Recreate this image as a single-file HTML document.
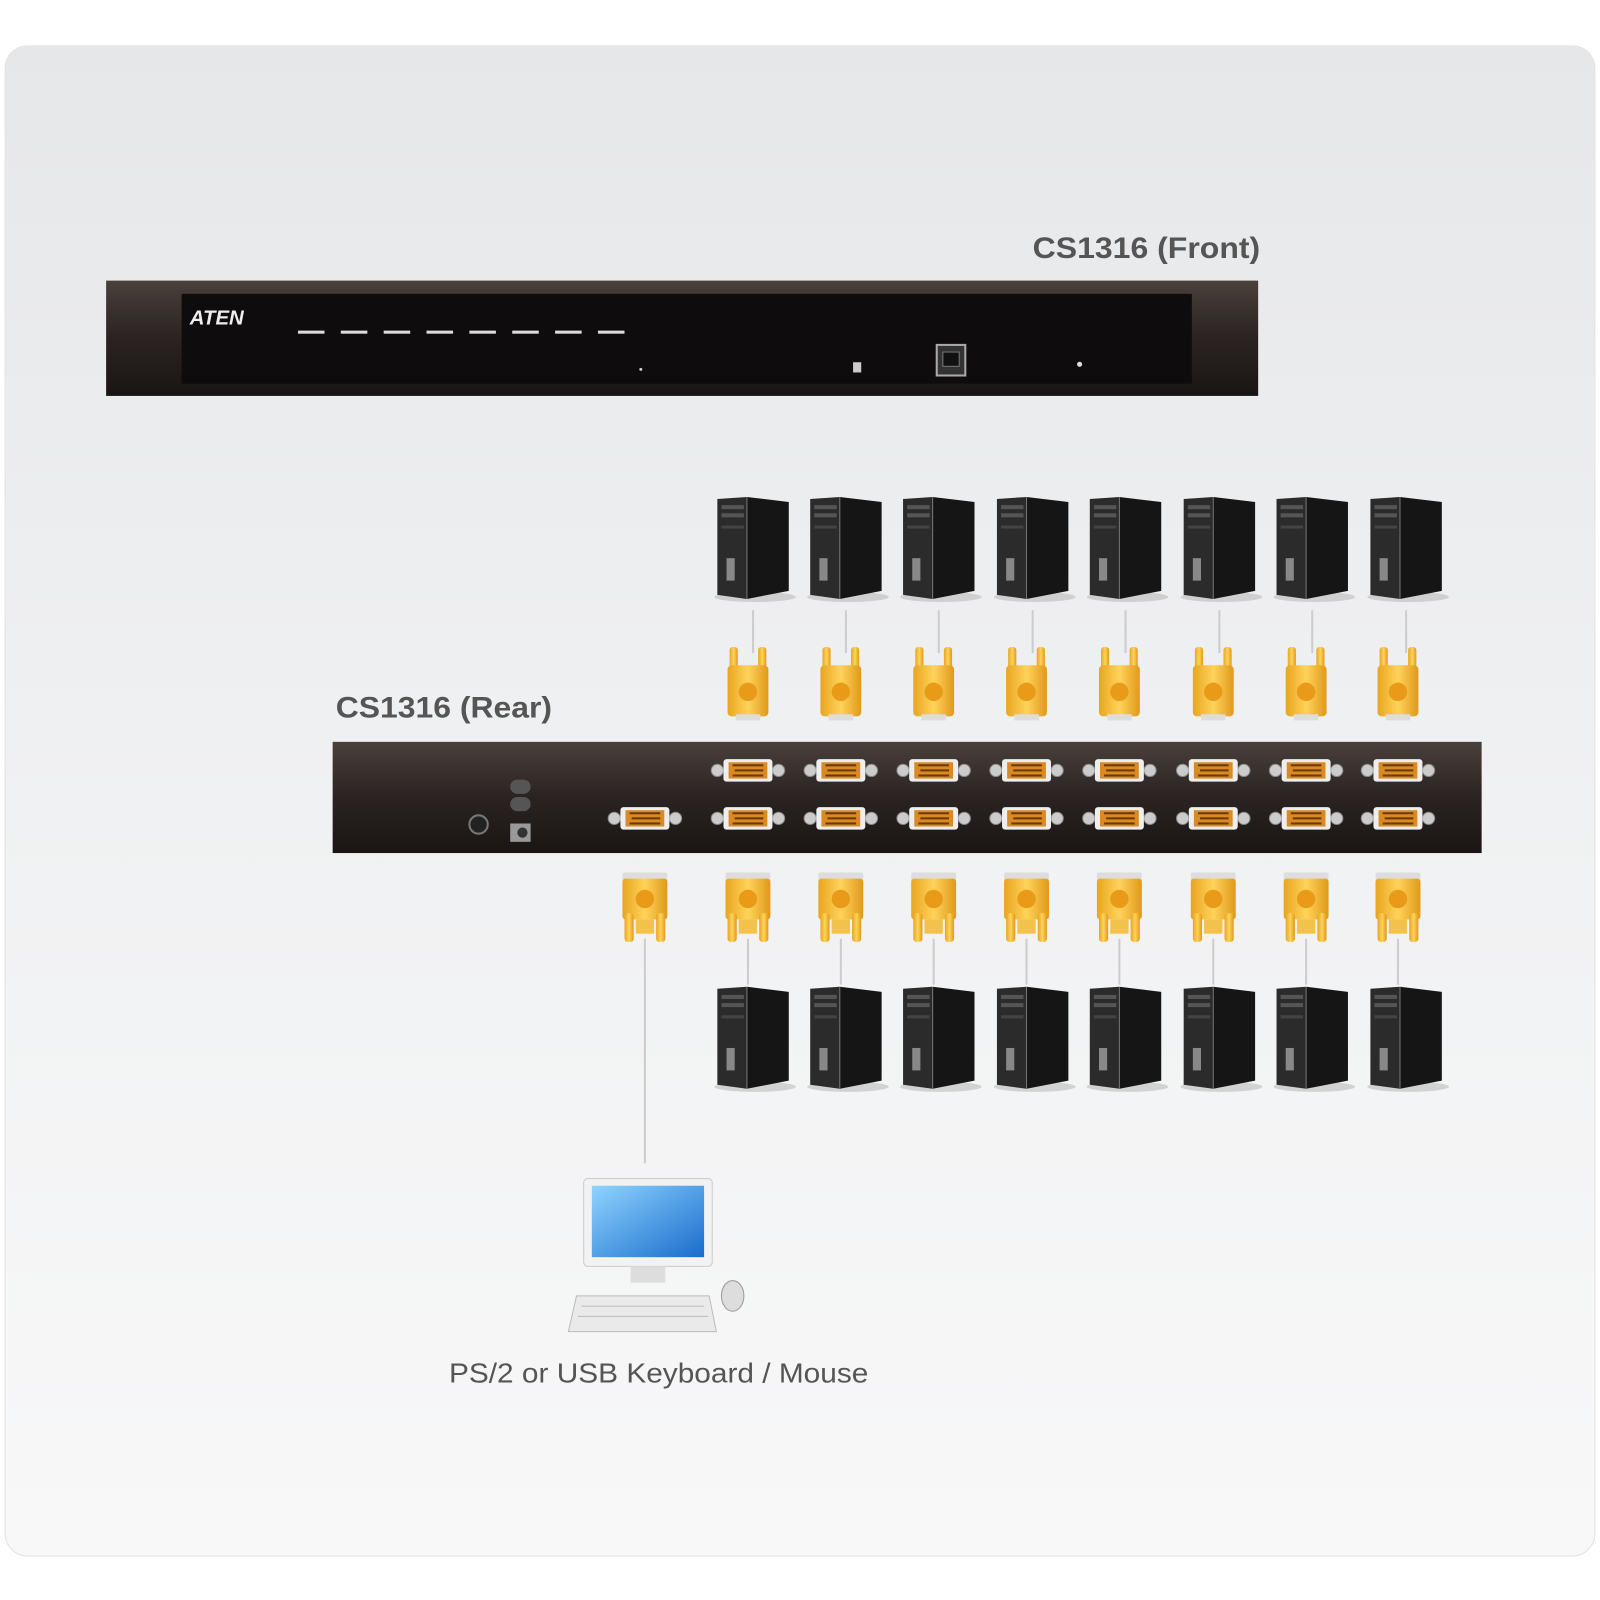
<!DOCTYPE html>
<html><head><meta charset="utf-8"><style>
html,body{margin:0;padding:0;background:#fff;width:1600px;height:1600px;overflow:hidden}
svg{display:block}
</style></head><body>
<svg width="1600" height="1600" viewBox="0 0 1568 1568" xmlns="http://www.w3.org/2000/svg">
<defs>
<linearGradient id="bg" x1="0" y1="0" x2="0" y2="1">
<stop offset="0" stop-color="#e6e7e9"/><stop offset="0.5" stop-color="#f0f1f2"/><stop offset="1" stop-color="#f8f8f9"/></linearGradient>
<linearGradient id="unit" x1="0" y1="0" x2="0" y2="1">
<stop offset="0" stop-color="#4a403c"/><stop offset="0.5" stop-color="#2a2321"/><stop offset="1" stop-color="#1a1514"/></linearGradient>
<linearGradient id="gold" x1="0" y1="0" x2="1" y2="0">
<stop offset="0" stop-color="#e8a520"/><stop offset="0.5" stop-color="#ffd35a"/><stop offset="1" stop-color="#e0991a"/></linearGradient>
<linearGradient id="scr" x1="0" y1="0" x2="1" y2="1">
<stop offset="0" stop-color="#8fd4ff"/><stop offset="1" stop-color="#1a6ccc"/></linearGradient>
<g id="tower">
<ellipse cx="2" cy="98" rx="40" ry="5" fill="#bbb" opacity="0.6"/>
<polygon points="-35,2 -6,0 -6,100 -35,96" fill="#2b2b2b"/>
<polygon points="-6,0 35,5 35,92 -6,100" fill="#151515"/>
<rect x="-31" y="8" width="22" height="4" fill="#555"/>
<rect x="-31" y="16" width="22" height="4" fill="#555"/>
<rect x="-31" y="28" width="22" height="3" fill="#444"/>
<rect x="-26" y="60" width="8" height="22" fill="#888"/>
<line x1="-6" y1="0" x2="-6" y2="100" stroke="#777" stroke-width="1"/>
</g>
<g id="conn">
<rect x="-18" y="0" width="8" height="28" rx="3" fill="url(#gold)"/>
<rect x="10" y="0" width="8" height="28" rx="3" fill="url(#gold)"/>
<rect x="-20" y="18" width="40" height="50" rx="4" fill="url(#gold)"/>
<circle cx="0" cy="44" r="9" fill="#e89a18"/>
<rect x="-12" y="66" width="24" height="6" fill="#ddd"/>
</g>
<g id="connb">
<rect x="-22" y="0" width="44" height="8" rx="2" fill="#ddd"/>
<rect x="-22" y="6" width="44" height="40" rx="3" fill="url(#gold)"/>
<circle cx="0" cy="26" r="9" fill="#e89a18"/>
<rect x="-20" y="40" width="9" height="28" rx="3" fill="url(#gold)"/>
<rect x="11" y="40" width="9" height="28" rx="3" fill="url(#gold)"/>
<rect x="-9" y="46" width="18" height="14" fill="#f2c24a"/>
</g>
<g id="port">
<circle cx="-30" cy="0" r="6" fill="#ccc" stroke="#888"/>
<circle cx="30" cy="0" r="6" fill="#ccc" stroke="#888"/>
<rect x="-24" y="-11" width="48" height="22" rx="3" fill="#eee"/>
<rect x="-19" y="-8" width="38" height="16" fill="#d98a22"/>
<g fill="#6a3a0a"><rect x="-15" y="-6" width="30" height="2"/><rect x="-13" y="-1" width="28" height="2"/><rect x="-15" y="4" width="30" height="2"/></g>
</g>
</defs>
<rect width="1568" height="1568" fill="#fff"/>
<rect x="5" y="45" width="1558" height="1480" rx="22" fill="url(#bg)" stroke="#e2e2e2"/>

<text x="1012" y="253" textLength="223" lengthAdjust="spacingAndGlyphs" font-family="Liberation Sans, sans-serif" font-weight="bold" font-size="29" fill="#555">CS1316 (Front)</text>
<rect x="104" y="275" width="1129" height="113" fill="url(#unit)"/>
<rect x="178" y="288" width="990" height="88" fill="#0e0c0c"/>
<text x="186" y="318" font-family="Liberation Sans, sans-serif" font-weight="bold" font-style="italic" font-size="20" fill="#eee">ATEN</text>
<g fill="#ddd">
<rect x="292" y="324" width="26" height="3"/><rect x="334" y="324" width="26" height="3"/><rect x="376" y="324" width="26" height="3"/><rect x="418" y="324" width="26" height="3"/><rect x="460" y="324" width="26" height="3"/><rect x="502" y="324" width="26" height="3"/><rect x="544" y="324" width="26" height="3"/><rect x="586" y="324" width="26" height="3"/>
</g>
<circle cx="628" cy="362" r="1.5" fill="#ccc"/>
<rect x="836" y="355" width="8" height="10" fill="#ccc"/>
<rect x="918" y="338" width="28" height="30" fill="#333" stroke="#aaa" stroke-width="2"/>
<rect x="924" y="345" width="16" height="14" fill="#111" stroke="#777"/>
<circle cx="1058" cy="357" r="2.5" fill="#ddd"/>

<g stroke="#ccc" stroke-width="2">
<line x1="738" y1="598" x2="738" y2="640"/><line x1="829" y1="598" x2="829" y2="640"/><line x1="920" y1="598" x2="920" y2="640"/><line x1="1012" y1="598" x2="1012" y2="640"/><line x1="1103" y1="598" x2="1103" y2="640"/><line x1="1195" y1="598" x2="1195" y2="640"/><line x1="1286" y1="598" x2="1286" y2="640"/><line x1="1378" y1="598" x2="1378" y2="640"/>
<line x1="632" y1="920" x2="632" y2="1140"/>
<line x1="733" y1="920" x2="733" y2="965"/><line x1="824" y1="920" x2="824" y2="965"/><line x1="915" y1="920" x2="915" y2="965"/><line x1="1006" y1="920" x2="1006" y2="965"/><line x1="1097" y1="920" x2="1097" y2="965"/><line x1="1189" y1="920" x2="1189" y2="965"/><line x1="1280" y1="920" x2="1280" y2="965"/><line x1="1370" y1="920" x2="1370" y2="965"/>
</g>

<g>
<use href="#tower" x="738" y="487"/><use href="#tower" x="829" y="487"/><use href="#tower" x="920" y="487"/><use href="#tower" x="1012" y="487"/><use href="#tower" x="1103" y="487"/><use href="#tower" x="1195" y="487"/><use href="#tower" x="1286" y="487"/><use href="#tower" x="1378" y="487"/>
</g>
<g>
<use href="#conn" x="733" y="634"/><use href="#conn" x="824" y="634"/><use href="#conn" x="915" y="634"/><use href="#conn" x="1006" y="634"/><use href="#conn" x="1097" y="634"/><use href="#conn" x="1189" y="634"/><use href="#conn" x="1280" y="634"/><use href="#conn" x="1370" y="634"/>
</g>

<text x="329" y="703" textLength="212" lengthAdjust="spacingAndGlyphs" font-family="Liberation Sans, sans-serif" font-weight="bold" font-size="29" fill="#555">CS1316 (Rear)</text>
<rect x="326" y="727" width="1126" height="109" fill="url(#unit)"/>
<rect x="500" y="764" width="20" height="14" rx="7" fill="#555"/>
<rect x="500" y="781" width="20" height="14" rx="7" fill="#555"/>
<circle cx="469" cy="808" r="9" fill="#222" stroke="#777" stroke-width="2"/>
<rect x="500" y="807" width="20" height="18" fill="#999"/>
<circle cx="512" cy="816" r="5" fill="#333"/>
<g>
<use href="#port" x="733" y="755"/><use href="#port" x="824" y="755"/><use href="#port" x="915" y="755"/><use href="#port" x="1006" y="755"/><use href="#port" x="1097" y="755"/><use href="#port" x="1189" y="755"/><use href="#port" x="1280" y="755"/><use href="#port" x="1370" y="755"/>
<use href="#port" x="632" y="802"/>
<use href="#port" x="733" y="802"/><use href="#port" x="824" y="802"/><use href="#port" x="915" y="802"/><use href="#port" x="1006" y="802"/><use href="#port" x="1097" y="802"/><use href="#port" x="1189" y="802"/><use href="#port" x="1280" y="802"/><use href="#port" x="1370" y="802"/>
</g>
<g>
<use href="#connb" x="632" y="855"/><use href="#connb" x="733" y="855"/><use href="#connb" x="824" y="855"/><use href="#connb" x="915" y="855"/><use href="#connb" x="1006" y="855"/><use href="#connb" x="1097" y="855"/><use href="#connb" x="1189" y="855"/><use href="#connb" x="1280" y="855"/><use href="#connb" x="1370" y="855"/>
</g>
<g>
<use href="#tower" x="738" y="967"/><use href="#tower" x="829" y="967"/><use href="#tower" x="920" y="967"/><use href="#tower" x="1012" y="967"/><use href="#tower" x="1103" y="967"/><use href="#tower" x="1195" y="967"/><use href="#tower" x="1286" y="967"/><use href="#tower" x="1378" y="967"/>
</g>

<rect x="572" y="1155" width="126" height="86" rx="4" fill="#f2f2f2" stroke="#ccc"/>
<rect x="580" y="1162" width="110" height="70" fill="url(#scr)"/>
<rect x="618" y="1241" width="34" height="16" fill="#ddd"/>
<polygon points="565,1270 695,1270 702,1305 557,1305" fill="#eaeaea" stroke="#bbb"/>
<g stroke="#bbb"><line x1="570" y1="1280" x2="690" y2="1280"/><line x1="566" y1="1290" x2="694" y2="1290"/></g>
<ellipse cx="718" cy="1270" rx="11" ry="15" fill="#ddd" stroke="#999"/>

<text x="440" y="1355" textLength="411" lengthAdjust="spacingAndGlyphs" font-family="Liberation Sans, sans-serif" font-size="27" fill="#555">PS/2 or USB Keyboard / Mouse</text>
</svg>
</body></html>
